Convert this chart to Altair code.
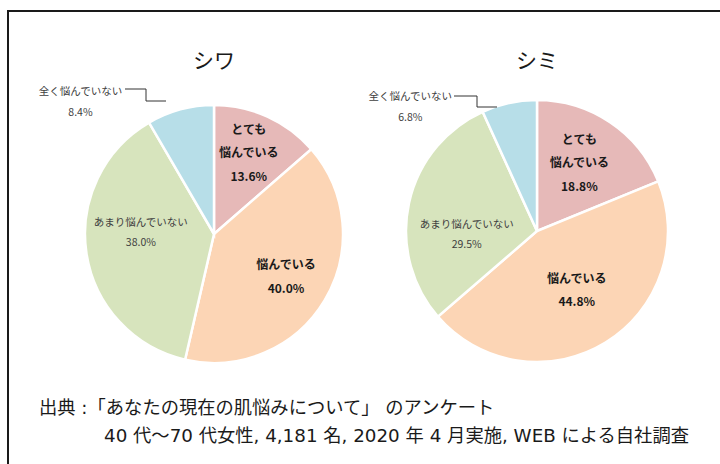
import altair as alt
import pandas as pd

categories = ["とても悩んでいる", "悩んでいる", "あまり悩んでいない", "全く悩んでいない"]
label_names = ["とても\n悩んでいる", "悩んでいる", "あまり悩んでいない", "全く悩んでいない"]
wrinkle_values = [13.6, 40.0, 38.0, 8.4]
spot_values = [18.8, 44.8, 29.5, 6.8]
pie_titles = ["シワ", "シミ"]
colors = ["#E6B9B8", "#FCD5B5", "#D7E4BD", "#B7DEE8"]
footer_lines = [
    "出典 :「あなたの現在の肌悩みについて」 のアンケート",
    "40 代～70 代女性, 4,181 名, 2020 年 4 月実施, WEB による自社調査",
]

FONT = "Noto Sans CJK JP"
FOOT_FONT = "DejaVu Sans, Noto Sans CJK JP"


def pie_df(values):
    rows = []
    for i, (c, n, v) in enumerate(zip(categories, label_names, values)):
        lab = f"{n}\n{v:.1f}%"
        rows.append({"cat": c, "order": i, "value": v,
                     "l0": lab if i == 0 else "",
                     "l1": lab if i == 1 else "",
                     "l2": lab if i == 2 else "",
                     "l3": lab if i == 3 else ""})
    return pd.DataFrame(rows)


def pie_layers(values, cx, cy, R, r_bold, r_inner, title, dys):
    df = pie_df(values)
    base = alt.Chart(df).encode(
        theta=alt.Theta("value:Q", stack=True),
        order=alt.Order("order:Q"),
        x=alt.value(cx),
        y=alt.value(cy),
    )
    arcs = base.mark_arc(radius=R, stroke="white", strokeWidth=2.5).encode(
        color=alt.Color("cat:N", scale=alt.Scale(domain=categories, range=colors), legend=None)
    )
    bold_style = dict(radius=r_bold, font=FONT, fontSize=12, fontWeight="bold",
                      lineBreak="\n", lineHeight=23.5, color="#1a1a1a", baseline="middle")
    t0 = base.mark_text(dy=dys[0], **bold_style).encode(text="l0:N")
    t1 = base.mark_text(dy=dys[1], **bold_style).encode(text="l1:N")
    t2 = base.mark_text(radius=r_inner, dy=dys[2], font=FONT, fontSize=10.5, baseline="middle",
                        lineBreak="\n", lineHeight=20, color="#404040").encode(text="l2:N")
    t3 = base.mark_text(radius=140, dx=-97, dy=dys[3], font=FONT, fontSize=10.5, baseline="middle",
                        lineBreak="\n", lineHeight=21, color="#404040").encode(text="l3:N")
    ttl = alt.Chart(pd.DataFrame({"t": [title]})).mark_text(
        font=FONT, fontSize=21, color="#1a1a1a"
    ).encode(text="t:N", x=alt.value(cx), y=alt.value(62))
    return [arcs, t0, t1, t2, t3, ttl]


def leader(x0, y0, x1, y1, x2):
    one = pd.DataFrame({"k": [0]})
    st = dict(color="#333333", strokeWidth=1)
    return [
        alt.Chart(one).mark_rule(**st).encode(x=alt.value(x0), x2=alt.value(x1), y=alt.value(y0), y2=alt.value(y0)),
        alt.Chart(one).mark_rule(**st).encode(x=alt.value(x1), x2=alt.value(x1), y=alt.value(y0), y2=alt.value(y1)),
        alt.Chart(one).mark_rule(**st).encode(x=alt.value(x1), x2=alt.value(x2), y=alt.value(y1), y2=alt.value(y1)),
    ]


border = alt.Chart(pd.DataFrame({"k": [0]})).mark_rect(
    fill="transparent", stroke="#1a1a1a", strokeWidth=2
).encode(x=alt.value(8), x2=alt.value(760), y=alt.value(11), y2=alt.value(500))

foot1 = alt.Chart(pd.DataFrame({"t": [footer_lines[0]]})).mark_text(
    font=FOOT_FONT, fontSize=18.3, align="left", baseline="middle", color="#1a1a1a"
).encode(text="t:N", x=alt.value(39), y=alt.value(409))
foot2 = alt.Chart(pd.DataFrame({"t": [footer_lines[1]]})).mark_text(
    font=FOOT_FONT, fontSize=18.3, align="left", baseline="middle", color="#1a1a1a"
).encode(text="t:N", x=alt.value(104), y=alt.value(437))

layers = [border]
layers += pie_layers(wrinkle_values, 214, 234, 129, 84, 74, pie_titles[0], [-28, -12, -22, -7])
layers += pie_layers(spot_values, 537, 231, 131, 76, 72, pie_titles[1], [-28, -17, 9, 3])
layers += leader(125, 89, 146, 101, 166)
layers += leader(454, 96, 477, 107, 497)
layers += [foot1, foot2]

chart = alt.layer(*layers).resolve_scale(theta="independent").properties(
    width=720, height=464, padding=0, autosize="none", background="white"
).configure_view(stroke=None)

chart.save("out.html", embed_options={"renderer": "svg", "actions": False})
